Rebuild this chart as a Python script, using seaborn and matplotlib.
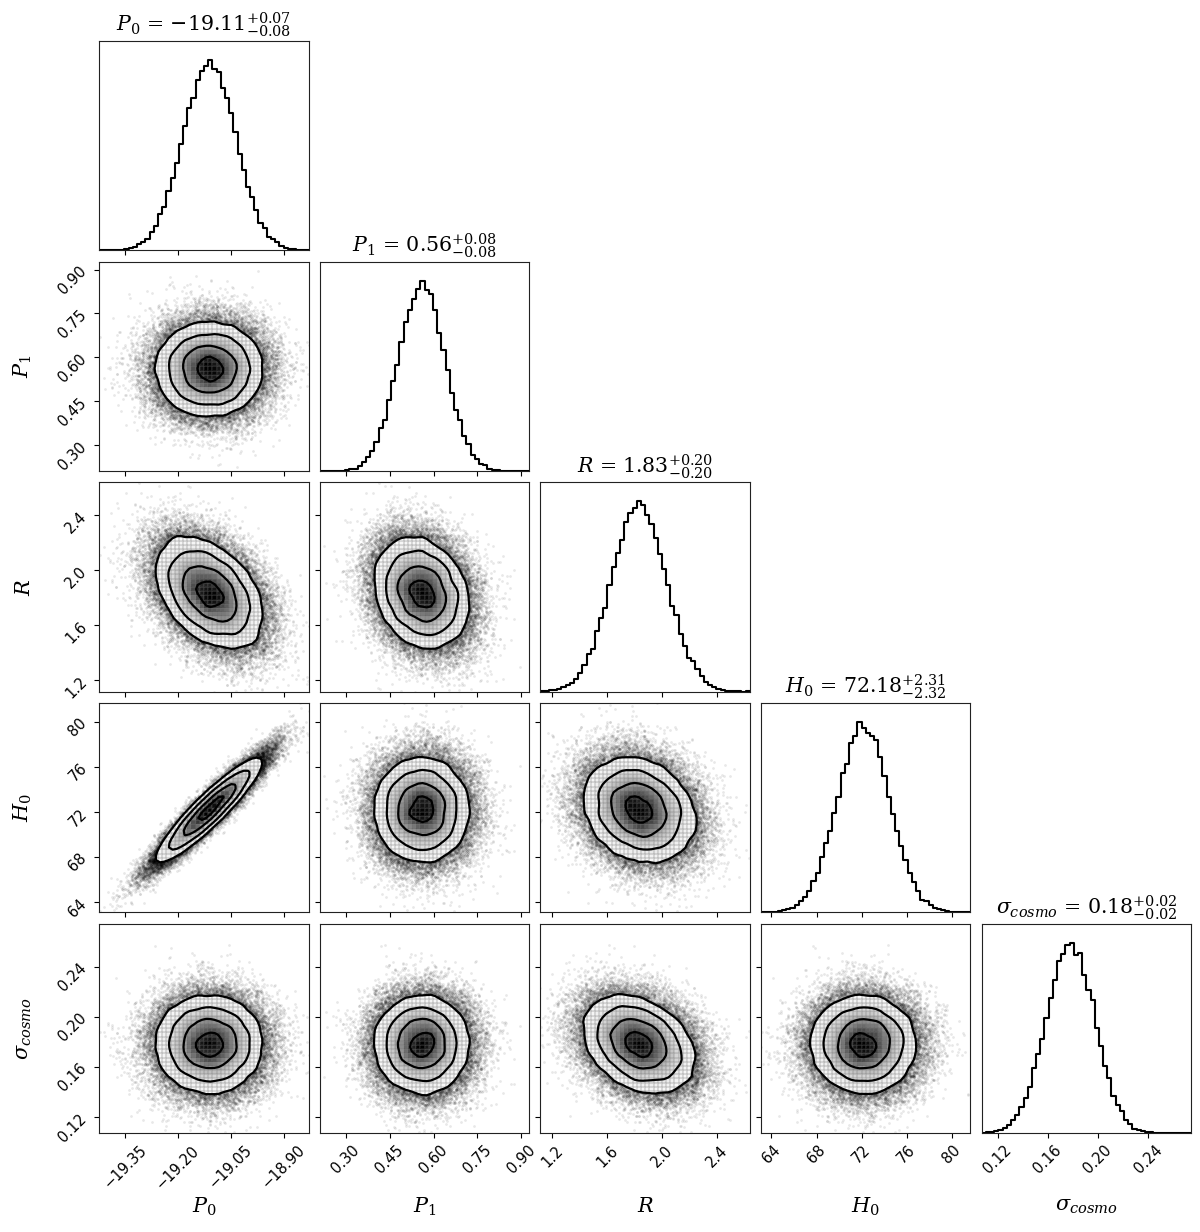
import numpy as np
import matplotlib
matplotlib.use("Agg")
import matplotlib.pyplot as plt
import seaborn as sns
from matplotlib.colors import LinearSegmentedColormap

# ------------------------------------------------------------------
# Values
# ------------------------------------------------------------------
param_labels = [r"$P_0$", r"$P_1$", r"$R$", r"$H_0$", r"$\sigma_{cosmo}$"]
title_names = [r"$P_0$", r"$P_1$", r"$R$", r"$H_0$", r"$\sigma_{cosmo}$"]
medians = ["-19.11", "0.56", "1.83", "72.18", "0.18"]
err_plus = ["0.07", "0.08", "0.20", "2.31", "0.02"]
err_minus = ["0.08", "0.08", "0.20", "2.32", "0.02"]

# posterior centre / width used for the sample cloud
post_centre = [-19.11, 0.56, 1.83, 72.18, 0.178]
post_width = [0.075, 0.08, 0.20, 2.31, 0.0195]
# pairwise correlations estimated from the ellipse tilts
corr_P0_P1 = 0.0
corr_P0_R = -0.40
corr_P0_H0 = 0.94
corr_P0_sig = 0.0
corr_P1_R = -0.20
corr_P1_H0 = 0.0
corr_P1_sig = 0.0
corr_R_H0 = -0.20
corr_R_sig = -0.30
corr_H0_sig = 0.0
n_samples = 45000

axis_ranges = [(-19.422, -18.829), (0.212, 0.927), (1.113, 2.638),
               (63.08, 81.66), (0.1072, 0.2743)]
tick_values = [[-19.35, -19.20, -19.05, -18.90],
               [0.30, 0.45, 0.60, 0.75, 0.90],
               [1.2, 1.6, 2.0, 2.4],
               [64, 68, 72, 76, 80],
               [0.12, 0.16, 0.20, 0.24]]
tick_labels = [["\u221219.35", "\u221219.20", "\u221219.05", "\u221218.90"],
               ["0.30", "0.45", "0.60", "0.75", "0.90"],
               ["1.2", "1.6", "2.0", "2.4"],
               ["64", "68", "72", "76", "80"],
               ["0.12", "0.16", "0.20", "0.24"]]
n_bins = 50

# ------------------------------------------------------------------
plt.rcParams["mathtext.fontset"] = "dejavuserif"
plt.rcParams["font.family"] = ["DejaVu Sans"]

ndim = len(param_labels)
C = np.array([
    [1.0, corr_P0_P1, corr_P0_R, corr_P0_H0, corr_P0_sig],
    [corr_P0_P1, 1.0, corr_P1_R, corr_P1_H0, corr_P1_sig],
    [corr_P0_R, corr_P1_R, 1.0, corr_R_H0, corr_R_sig],
    [corr_P0_H0, corr_P1_H0, corr_R_H0, 1.0, corr_H0_sig],
    [corr_P0_sig, corr_P1_sig, corr_R_sig, corr_H0_sig, 1.0]])
w, v = np.linalg.eigh(C)
w = np.clip(w, 1e-4, None)
C = v @ np.diag(w) @ v.T
L = np.linalg.cholesky(C)
rng = np.random.default_rng(12)
z = rng.standard_normal((n_samples, ndim)) @ L.T
samples = np.array(post_centre) + np.array(post_width) * z


def smooth2d(H, s):
    r = int(3 * s) + 1
    k = np.exp(-0.5 * (np.arange(-r, r + 1) / s) ** 2)
    k /= k.sum()
    Hp = np.pad(H, ((r, r), (0, 0)), mode="reflect")
    H = np.apply_along_axis(lambda a: np.convolve(a, k, mode="valid"), 0, Hp)
    Hp = np.pad(H, ((0, 0), (r, r)), mode="reflect")
    H = np.apply_along_axis(lambda a: np.convolve(a, k, mode="valid"), 1, Hp)
    return H


levels = 1.0 - np.exp(-0.5 * np.arange(0.5, 2.1, 0.5) ** 2)
density_cmap = LinearSegmentedColormap.from_list("dens", ["k", (1, 1, 1, 0)])

fig, axes = plt.subplots(ndim, ndim, figsize=(12, 12.32), dpi=100,
                         gridspec_kw=dict(left=0.0828, right=0.9925,
                                          bottom=0.0804, top=0.9667,
                                          wspace=0.0535, hspace=0.0535))

for i in range(ndim):
    for j in range(ndim):
        ax = axes[i, j]
        if j > i:
            ax.set_axis_off()
            continue
        xlo, xhi = axis_ranges[j]
        if i == j:
            edges = np.linspace(xlo, xhi, n_bins + 1)
            counts, _ = np.histogram(samples[:, i], bins=edges)
            sns.histplot(x=samples[:, i], bins=edges, element="step",
                         fill=False, color="k", linewidth=1.5, ax=ax)
            ax.set_ylim(0, 1.1 * counts.max())
            ax.set_yticks([])
            ax.set_ylabel("")
            ttl = (title_names[i] + " = $" + medians[i]
                   + "_{-" + err_minus[i] + "}^{+" + err_plus[i] + "}$")
            ax.set_title(ttl, fontsize=14.8, family="DejaVu Serif", pad=7)
        else:
            x = samples[:, j]
            y = samples[:, i]
            ylo, yhi = axis_ranges[i]
            sns.scatterplot(x=x, y=y, s=4, color="k", alpha=0.09,
                            linewidth=0, ax=ax, zorder=-1, rasterized=True)
            xe = np.linspace(xlo, xhi, n_bins + 1)
            ye = np.linspace(ylo, yhi, n_bins + 1)
            H, _, _ = np.histogram2d(x, y, bins=[xe, ye])
            H = smooth2d(H, 1.0)
            Hflat = np.sort(H.flatten())[::-1]
            sm = np.cumsum(Hflat)
            sm /= sm[-1]
            V = np.array([Hflat[sm <= v0][-1] if np.any(sm <= v0) else Hflat[0]
                          for v0 in levels])
            V.sort()
            xc = 0.5 * (xe[1:] + xe[:-1])
            yc = 0.5 * (ye[1:] + ye[:-1])
            cf = ax.contourf(xc, yc, H.T, [V.min(), H.max()], colors=["white"],
                             antialiased=False, zorder=1)
            mesh = ax.pcolormesh(xe, ye, H.max() - H.T, cmap=density_cmap,
                                 shading="flat", zorder=1.1,
                                 edgecolors=(0.5, 0.5, 0.5, 0.14),
                                 linewidth=0.3)
            mesh.set_clip_path(cf.get_paths()[0], transform=ax.transData)
            ax.contour(xc, yc, H.T, V, colors="k", linewidths=1.6, zorder=2)
            ax.set_ylim(ylo, yhi)
            ax.set_yticks(tick_values[i])
            if j == 0:
                ax.set_yticklabels(tick_labels[i], rotation=45, fontsize=10.5)
                ax.set_ylabel(param_labels[i], fontsize=15)
                ax.yaxis.set_label_coords(-0.31, 0.5)
            else:
                ax.set_yticklabels([])
                ax.set_ylabel("")
        ax.set_xlim(xlo, xhi)
        ax.set_xticks(tick_values[j])
        if i == ndim - 1:
            ax.set_xticklabels(tick_labels[j], rotation=45, fontsize=10.5)
            ax.set_xlabel(param_labels[j], fontsize=15)
            ax.xaxis.set_label_coords(0.5, -0.3)
        else:
            ax.set_xticklabels([])
            ax.set_xlabel("")
        for sp in ax.spines.values():
            sp.set_color("#222222")

fig.savefig("out.png", dpi=100)
